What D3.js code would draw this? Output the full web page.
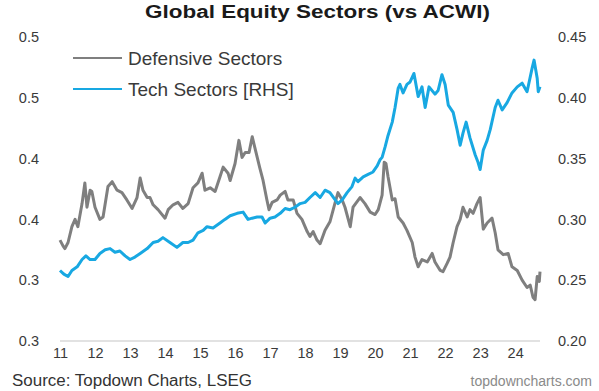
<!DOCTYPE html>
<html>
<head>
<meta charset="utf-8">
<script src="https://cdn.jsdelivr.net/npm/d3@7/dist/d3.min.js"></script>
<style>
  html, body { margin: 0; padding: 0; background: #ffffff; }
  svg { display: block; }
  text { font-family: "Liberation Sans", Arial, sans-serif; }
</style>
</head>
<body>
<svg id="chart" width="599" height="391"></svg>
<script>
// ---------- DATA ----------
const xTickYears = [2011,2012,2013,2014,2015,2016,2017,2018,2019,2020,2021,2022,2023,2024];
const xTickLabels = ["11","12","13","14","15","16","17","18","19","20","21","22","23","24"];
const leftTickValues = [0.25, 0.30, 0.35, 0.40, 0.45, 0.50];
const leftTickLabels = ["0.3","0.3","0.4","0.4","0.5","0.5"];
const rightTickValues = [0.20, 0.25, 0.30, 0.35, 0.40, 0.45];
const rightTickLabels = ["0.20","0.25","0.30","0.35","0.40","0.45"];

// Defensive Sectors (left axis): decimal year, value
const defensiveDates = [2011.00,2011.09,2011.14,2011.23,2011.34,2011.43,2011.51,2011.63,2011.71,2011.77,2011.86,2011.91,2012.00,2012.14,2012.23,2012.37,2012.49,2012.63,2012.77,2012.91,2013.06,2013.20,2013.29,2013.37,2013.49,2013.57,2013.66,2013.80,2014.00,2014.09,2014.23,2014.37,2014.51,2014.66,2014.80,2014.94,2015.06,2015.14,2015.29,2015.43,2015.57,2015.66,2015.80,2015.86,2016.00,2016.11,2016.20,2016.29,2016.40,2016.49,2016.60,2016.71,2016.80,2016.91,2016.97,2017.06,2017.20,2017.29,2017.43,2017.51,2017.66,2017.77,2017.91,2018.06,2018.14,2018.23,2018.34,2018.43,2018.57,2018.71,2018.86,2018.94,2019.06,2019.14,2019.29,2019.37,2019.57,2019.71,2019.86,2020.00,2020.09,2020.20,2020.26,2020.31,2020.37,2020.49,2020.57,2020.66,2020.80,2020.91,2021.06,2021.14,2021.23,2021.34,2021.49,2021.63,2021.71,2021.86,2021.94,2022.06,2022.14,2022.23,2022.34,2022.43,2022.51,2022.63,2022.71,2022.80,2022.91,2023.00,2023.09,2023.20,2023.34,2023.43,2023.51,2023.66,2023.80,2023.91,2024.06,2024.20,2024.34,2024.43,2024.51,2024.57,2024.63,2024.69,2024.71];
const defensiveValues = [0.333,0.328,0.326,0.331,0.344,0.350,0.344,0.363,0.380,0.360,0.374,0.373,0.360,0.350,0.352,0.377,0.381,0.374,0.372,0.366,0.359,0.368,0.384,0.374,0.368,0.368,0.362,0.358,0.351,0.358,0.362,0.364,0.359,0.363,0.376,0.380,0.388,0.374,0.376,0.373,0.385,0.393,0.388,0.382,0.396,0.415,0.401,0.405,0.405,0.418,0.405,0.392,0.382,0.366,0.358,0.364,0.366,0.370,0.373,0.366,0.366,0.355,0.350,0.340,0.336,0.340,0.333,0.330,0.341,0.348,0.364,0.372,0.366,0.360,0.344,0.360,0.368,0.363,0.356,0.354,0.358,0.370,0.397,0.396,0.385,0.366,0.367,0.352,0.347,0.341,0.331,0.319,0.311,0.317,0.315,0.322,0.315,0.308,0.307,0.314,0.319,0.331,0.344,0.350,0.360,0.352,0.358,0.355,0.363,0.368,0.342,0.347,0.351,0.339,0.325,0.321,0.322,0.311,0.308,0.300,0.294,0.296,0.286,0.284,0.303,0.299,0.307];

// Tech Sectors (right axis): decimal year, value
const techDates = [2011.00,2011.11,2011.23,2011.34,2011.49,2011.63,2011.74,2011.86,2012.00,2012.14,2012.29,2012.43,2012.57,2012.71,2012.86,2013.00,2013.14,2013.29,2013.49,2013.66,2013.80,2013.94,2014.14,2014.34,2014.51,2014.66,2014.80,2014.94,2015.09,2015.20,2015.37,2015.57,2015.71,2015.86,2016.06,2016.23,2016.37,2016.49,2016.63,2016.77,2016.86,2017.00,2017.14,2017.29,2017.43,2017.57,2017.71,2017.86,2018.00,2018.14,2018.29,2018.43,2018.57,2018.71,2018.86,2018.94,2019.06,2019.20,2019.34,2019.43,2019.51,2019.66,2019.80,2019.94,2020.06,2020.14,2020.20,2020.29,2020.37,2020.49,2020.57,2020.66,2020.71,2020.80,2020.91,2021.00,2021.11,2021.23,2021.34,2021.43,2021.54,2021.71,2021.80,2021.91,2022.00,2022.09,2022.23,2022.34,2022.43,2022.51,2022.60,2022.71,2022.86,2022.94,2023.00,2023.09,2023.20,2023.29,2023.43,2023.51,2023.63,2023.77,2023.91,2024.06,2024.20,2024.34,2024.49,2024.54,2024.63,2024.66,2024.71];
const techValues = [0.258,0.255,0.253,0.258,0.261,0.267,0.270,0.267,0.267,0.272,0.275,0.276,0.273,0.274,0.270,0.267,0.269,0.272,0.276,0.281,0.282,0.285,0.281,0.277,0.281,0.281,0.283,0.289,0.291,0.294,0.293,0.297,0.300,0.303,0.305,0.306,0.300,0.301,0.302,0.302,0.297,0.301,0.302,0.305,0.309,0.308,0.310,0.313,0.314,0.318,0.322,0.318,0.324,0.322,0.316,0.313,0.316,0.322,0.327,0.334,0.331,0.335,0.337,0.339,0.344,0.349,0.351,0.360,0.369,0.380,0.392,0.408,0.411,0.404,0.411,0.413,0.420,0.401,0.409,0.392,0.409,0.403,0.406,0.419,0.411,0.394,0.388,0.374,0.361,0.371,0.380,0.367,0.353,0.347,0.341,0.357,0.365,0.374,0.392,0.398,0.390,0.396,0.404,0.409,0.412,0.405,0.425,0.431,0.416,0.405,0.409];

const defensiveSeries = defensiveDates.map((d, i) => ({ t: d, v: defensiveValues[i] }));
const techSeries = techDates.map((d, i) => ({ t: d, v: techValues[i] }));

// ---------- CHART ----------
const svg = d3.select("#chart");
const x = d3.scaleLinear().domain([2011, 2024.71]).range([60, 540]);
const yLeft = d3.scaleLinear().domain([0.25, 0.50]).range([341, 37]);
const yRight = d3.scaleLinear().domain([0.20, 0.45]).range([341, 37]);

const GRAY = "#7f7f7f";
const BLUE = "#18a8e2";
const TEXT = "#3a3a3a";

// title
svg.append("text")
  .attr("x", 145).attr("y", 18)
  .attr("textLength", 345).attr("lengthAdjust", "spacingAndGlyphs")
  .attr("font-size", 18).attr("font-weight", "bold").attr("fill", "#1a1a1a")
  .text("Global Equity Sectors (vs ACWI)");

// baseline
svg.append("line")
  .attr("x1", x(2011)).attr("x2", x(2024.71))
  .attr("y1", yLeft(0.25)).attr("y2", yLeft(0.25))
  .attr("stroke", "#d9d9d9").attr("stroke-width", 1.5);

// left axis
const leftAxis = d3.axisLeft(yLeft).tickValues(leftTickValues)
  .tickSize(0).tickPadding(0)
  .tickFormat((d, i) => leftTickLabels[i]);
const gl = svg.append("g").attr("transform", "translate(39,0)").call(leftAxis);
gl.select(".domain").remove();
gl.selectAll("text").attr("font-size", 14.5).attr("fill", TEXT)
  .attr("font-family", "Liberation Sans, Arial, sans-serif");

// right axis
const rightAxis = d3.axisRight(yRight).tickValues(rightTickValues)
  .tickSize(0).tickPadding(0)
  .tickFormat((d, i) => rightTickLabels[i]);
const gr = svg.append("g").attr("transform", "translate(558,0)").call(rightAxis);
gr.select(".domain").remove();
gr.selectAll("text").attr("font-size", 14.5).attr("fill", TEXT)
  .attr("font-family", "Liberation Sans, Arial, sans-serif");

// x axis
const xAxis = d3.axisBottom(x).tickValues(xTickYears)
  .tickSize(0).tickPadding(0)
  .tickFormat((d, i) => xTickLabels[i]);
const gx = svg.append("g").attr("transform", "translate(0,348)").call(xAxis);
gx.select(".domain").remove();
gx.selectAll("text").attr("font-size", 14.5).attr("fill", TEXT)
  .attr("font-family", "Liberation Sans, Arial, sans-serif");

// lines
const lineLeft = d3.line().x(d => x(d.t)).y(d => yLeft(d.v));
const lineRight = d3.line().x(d => x(d.t)).y(d => yRight(d.v));

svg.append("path").datum(defensiveSeries)
  .attr("d", lineLeft).attr("fill", "none")
  .attr("stroke", GRAY).attr("stroke-width", 3).attr("stroke-linejoin", "round");

svg.append("path").datum(techSeries)
  .attr("d", lineRight).attr("fill", "none")
  .attr("stroke", BLUE).attr("stroke-width", 3).attr("stroke-linejoin", "round");

// legend
const legend = [
  { label: "Defensive Sectors", color: GRAY, y: 58 },
  { label: "Tech Sectors [RHS]", color: BLUE, y: 89 }
];
legend.forEach(l => {
  svg.append("line").attr("x1", 73).attr("x2", 122).attr("y1", l.y).attr("y2", l.y)
    .attr("stroke", l.color).attr("stroke-width", 2.2);
  svg.append("text").attr("x", 128).attr("y", l.y + 6.5)
    .attr("font-size", 19).attr("fill", TEXT).text(l.label);
});

// footer
svg.append("text").attr("x", 12).attr("y", 386)
  .attr("font-size", 16).attr("fill", "#333333")
  .attr("textLength", 240).attr("lengthAdjust", "spacingAndGlyphs")
  .text("Source: Topdown Charts, LSEG");
svg.append("text").attr("x", 592).attr("y", 386)
  .attr("text-anchor", "end")
  .attr("font-size", 14).attr("fill", "#8a8a8a")
  .text("topdowncharts.com");
</script>
</body>
</html>
